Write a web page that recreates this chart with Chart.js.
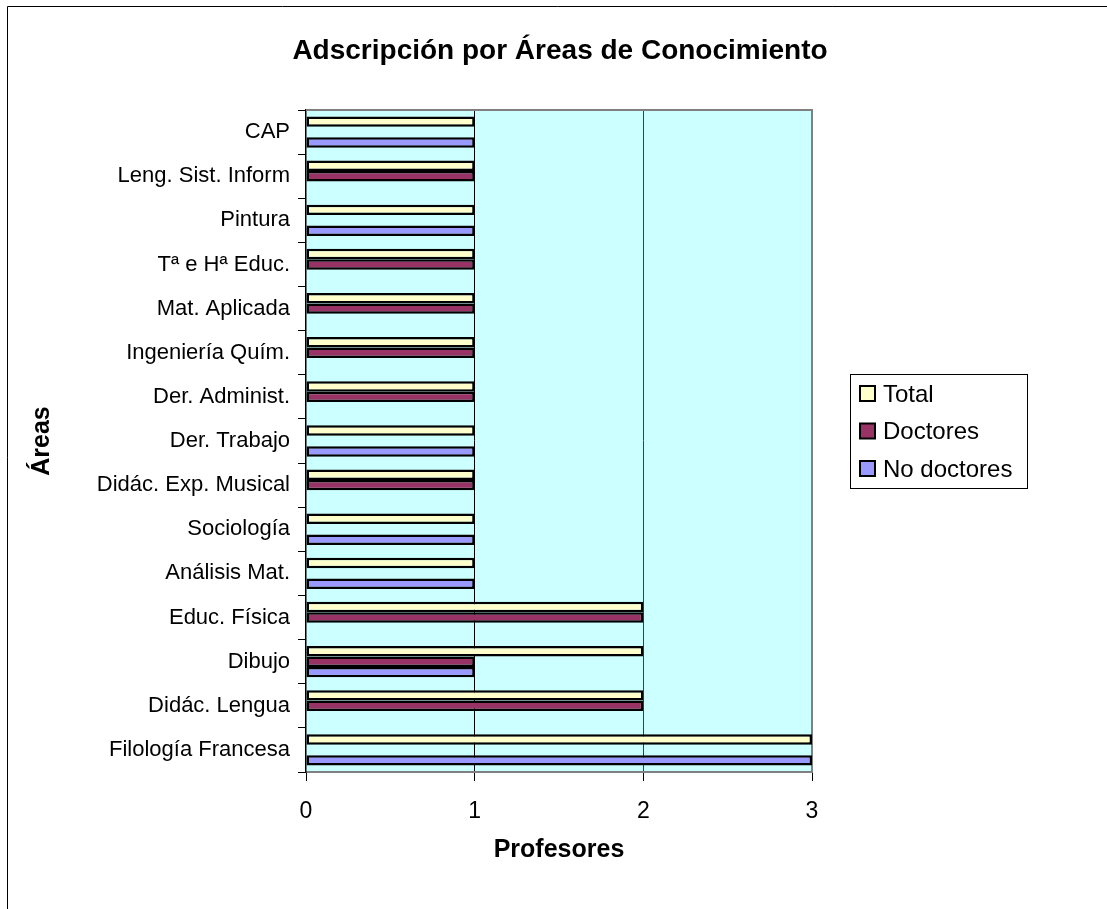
<!DOCTYPE html>
<html>
<head>
<meta charset="utf-8">
<script src="https://cdn.jsdelivr.net/npm/chart.js@4.4.0/dist/chart.umd.min.js"></script>
<style>
    body { margin: 0; background: #fff; }
    canvas { display: block; }
</style>
</head>
<body>
<canvas id="chart" width="1107" height="909"></canvas>
<script>
// Chart data
const chartTitle = 'Adscripción por Áreas de Conocimiento';
const areas = ['CAP', 'Leng. Sist. Inform', 'Pintura', 'Tª e Hª Educ.', 'Mat. Aplicada', 'Ingeniería Quím.',
    'Der. Administ.', 'Der. Trabajo', 'Didác. Exp. Musical', 'Sociología', 'Análisis Mat.',
    'Educ. Física', 'Dibujo', 'Didác. Lengua', 'Filología Francesa'];
const total = [1, 1, 1, 1, 1, 1, 1, 1, 1, 1, 1, 2, 2, 2, 3];
const doctores = [0, 1, 0, 1, 1, 1, 1, 0, 1, 0, 0, 2, 1, 2, 0];
const noDoctores = [1, 0, 1, 0, 0, 0, 0, 1, 0, 1, 1, 0, 1, 0, 3];
const xTicks = [0, 1, 2, 3];

const FONT = "'Liberation Sans', Arial, sans-serif";

// Plot background, outer frame, grey plot border and the title
const plotBackground = {
    id: 'plotBackground',
    beforeDraw(chart) {
        const { ctx, chartArea: a } = chart;
        ctx.save();
        ctx.fillStyle = '#fff';
        ctx.fillRect(0, 0, chart.width, chart.height);
        ctx.fillStyle = '#CCFFFF';
        ctx.fillRect(a.left, a.top, a.right - a.left, a.bottom - a.top);
        ctx.restore();
    },
    beforeDatasetsDraw(chart) {
        const { ctx, chartArea: a } = chart;
        ctx.save();
        ctx.strokeStyle = '#808080';
        ctx.lineWidth = 2;
        ctx.beginPath();
        ctx.moveTo(a.left, a.top);
        ctx.lineTo(a.right, a.top);
        ctx.lineTo(a.right, a.bottom);
        ctx.stroke();
        ctx.restore();
    },
    afterDraw(chart) {
        const ctx = chart.ctx;
        ctx.save();
        ctx.strokeStyle = '#000';
        ctx.lineWidth = 1;
        ctx.beginPath();
        ctx.moveTo(7.5, chart.height);
        ctx.lineTo(7.5, 6.5);
        ctx.lineTo(chart.width, 6.5);
        ctx.stroke();
        // title centred over the whole picture
        ctx.fillStyle = '#000';
        ctx.font = 'bold 28px ' + FONT;
        ctx.textAlign = 'center';
        ctx.textBaseline = 'middle';
        ctx.fillText(chartTitle, 560, 51);
        ctx.restore();
    }
};

// Excel-like boxed legend on the right
const boxLegend = {
    id: 'boxLegend',
    afterDraw(chart) {
        const ctx = chart.ctx;
        const x = 850, y = 374, w = 177, h = 114;
        ctx.save();
        ctx.fillStyle = '#fff';
        ctx.fillRect(x, y, w, h);
        ctx.strokeStyle = '#000';
        ctx.lineWidth = 1;
        ctx.strokeRect(x + 0.5, y + 0.5, w, h);
        ctx.font = '24px ' + FONT;
        ctx.textBaseline = 'middle';
        chart.data.datasets.forEach((ds, i) => {
            const cy = 394 + i * 37.5;
            ctx.fillStyle = ds.backgroundColor;
            ctx.fillRect(860, cy - 8, 15, 15);
            ctx.lineWidth = 2;
            ctx.strokeRect(860, cy - 8, 15, 15);
            ctx.fillStyle = '#000';
            ctx.fillText(ds.label, 883, cy + 1);
        });
        ctx.restore();
    }
};

const barStyle = {
    borderColor: '#000',
    borderWidth: ctx => ctx.raw ? 2.5 : 0,
    borderSkipped: false,
    categoryPercentage: 0.71,
    barPercentage: 1
};

new Chart(document.getElementById('chart'), {
    type: 'bar',
    data: {
        labels: areas,
        datasets: [
            { label: 'Total', data: total, backgroundColor: '#FFFFCC', ...barStyle },
            { label: 'Doctores', data: doctores, backgroundColor: '#993366', ...barStyle },
            { label: 'No doctores', data: noDoctores, backgroundColor: '#9999FF', ...barStyle }
        ]
    },
    options: {
        indexAxis: 'y',
        responsive: false,
        animation: false,
        devicePixelRatio: 1,
        layout: { padding: { left: 8, top: 110, right: 295, bottom: 0 } },
        plugins: {
            legend: { display: false },
            tooltip: { enabled: false },
            title: { display: false }
        },
        scales: {
            x: {
                type: 'linear',
                position: 'bottom',
                min: 0,
                max: 3,
                afterBuildTicks: s => { s.ticks = xTicks.map(v => ({ value: v })); },
                afterFit: s => { s.height = 137; },
                ticks: { color: '#000', font: { family: FONT, size: 23 }, padding: 17 },
                grid: {
                    color: c => c.index === 1 ? '#000' : (c.index === 2 ? '#404040' : 'rgba(0,0,0,0)'),
                    tickColor: '#000',
                    tickLength: 9
                },
                border: { color: '#808080', width: 2 },
                title: {
                    display: true,
                    text: 'Profesores',
                    color: '#000',
                    font: { family: FONT, size: 25, weight: 'bold' },
                    padding: { top: 0, bottom: 44 }
                }
            },
            y: {
                type: 'category',
                afterFit: s => { s.width = 298; },
                ticks: { color: '#000', font: { family: FONT, size: 22 }, padding: 8 },
                grid: { drawOnChartArea: false, color: '#000', tickLength: 8, offset: true },
                border: { color: '#000', width: 1.5 },
                title: {
                    display: true,
                    text: 'Áreas',
                    color: '#000',
                    font: { family: FONT, size: 25, weight: 'bold' },
                    padding: { top: 19, bottom: 0 }
                }
            }
        }
    },
    plugins: [plotBackground, boxLegend]
});
</script>
</body>
</html>
